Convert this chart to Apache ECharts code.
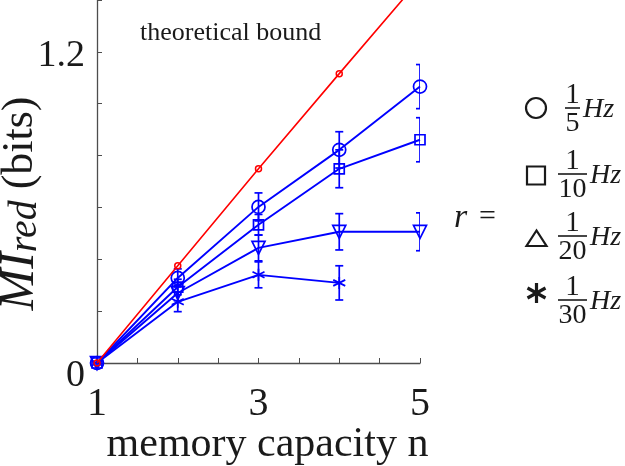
<!DOCTYPE html>
<html>
<head>
<meta charset="utf-8">
<script src="https://cdn.jsdelivr.net/npm/echarts@6/dist/echarts.min.js"></script>
<style>
  html, body { margin: 0; padding: 0; background: #fff; }
  #chart { width: 625px; height: 466px; }
</style>
</head>
<body>
<div id="chart"></div>
<script>
// memory capacity n
const capacity = [1, 2, 3, 4, 5]

// theoretical bound (red)
const bound = [0, 0.375, 0.749, 1.116, 1.48]

// MI_red for each rate r, with error half-widths
const r5 = [0, 0.328, 0.602, 0.822, 1.066]
const r5Err = [0, 0.035, 0.054, 0.07, 0.085]
const r10 = [0, 0.293, 0.533, 0.749, 0.861]
const r10Err = [0, 0.03, 0.04, 0.073, 0.085]
const r20 = [0, 0.27, 0.444, 0.506, 0.506]
const r20Err = [0, 0.03, 0.05, 0.07, 0.073]
const r30 = [0, 0.236, 0.34, 0.309, null]
const r30Err = [0, 0.038, 0.05, 0.066, null]

const BLUE = '#0000ff'
const INK = '#1a1a1a'
const SERIF = '"Liberation Serif", "DejaVu Serif", serif'
const STAR = 'path://M0,-10L0,10M-8.66,-5L8.66,5M-8.66,5L8.66,-5'

const chart = echarts.init(document.getElementById('chart'))

// pairs [x, y]
const pts = vals => capacity.map((x, i) => [x, vals[i]]).filter(p => p[1] != null)

// error bar series (custom, with caps)
const errSeries = (vals, errs) => ({
  type: 'custom',
  silent: true,
  clip: true,
  z: 3,
  data: capacity.map((x, i) => [x, vals[i], errs[i]]).filter(p => p[1] != null && p[2] > 0),
  renderItem: (params, api) => {
    const x = api.value(0), y = api.value(1), e = api.value(2)
    const top = api.coord([x, y + e])
    const bot = api.coord([x, y - e])
    const cap = 4
    const st = { stroke: BLUE, lineWidth: 1.7 }
    return {
      type: 'group',
      children: [
        { type: 'line', shape: { x1: top[0], y1: top[1], x2: bot[0], y2: bot[1] }, style: st },
        { type: 'line', shape: { x1: top[0] - cap, y1: top[1], x2: top[0] + cap, y2: top[1] }, style: st },
        { type: 'line', shape: { x1: bot[0] - cap, y1: bot[1], x2: bot[0] + cap, y2: bot[1] }, style: st }
      ]
    }
  }
})

const blueLine = (name, vals, symbol, size, rotate) => ({
  name: name,
  type: 'line',
  data: pts(vals),
  symbol: symbol,
  symbolSize: size,
  symbolRotate: rotate || 0,
  showAllSymbol: true,
  clip: false,
  z: 4,
  lineStyle: { color: BLUE, width: 1.9 },
  itemStyle: { color: 'rgba(0,0,0,0)', borderColor: BLUE, borderWidth: 1.7 }
})

// legend on the right, drawn as graphic text/shapes
const txt = (x, y, s, font, align) => ({
  type: 'text', x: x, y: y,
  style: { text: s, font: font, fill: INK, textAlign: align || 'left', textVerticalAlign: 'middle' }
})
const ln = (x1, y1, x2, y2, w) => ({
  type: 'line', shape: { x1: x1, y1: y1, x2: x2, y2: y2 }, style: { stroke: INK, lineWidth: w }
})

const fracRow = (y, den, sym) => {
  const x0 = den.length > 1 ? 558 : 565
  const barW = den.length > 1 ? 29 : 15
  return [].concat(sym, [
    txt(x0 + barW / 2, y - 13, '1', '29px ' + SERIF, 'center'),
    ln(x0, y, x0 + barW, y, 1.6),
    txt(x0 + barW / 2, y + 16, den, '28px ' + SERIF, 'center'),
    txt(x0 + barW + 3, y + 2, 'Hz', 'italic 28px ' + SERIF)
  ])
}

const legendGraphics = [].concat(
  [txt(454, 218, 'r', 'italic 34px ' + SERIF), txt(479, 217, '=', '30px ' + SERIF)],
  fracRow(108, '5', [{ type: 'circle', shape: { cx: 536, cy: 108, r: 10 }, style: { fill: 'none', stroke: INK, lineWidth: 2.2 } }]),
  fracRow(174, '10', [{ type: 'rect', shape: { x: 527, y: 166.5, width: 18, height: 18 }, style: { fill: 'none', stroke: INK, lineWidth: 2.2 } }]),
  fracRow(236, '20', [{ type: 'polygon', shape: { points: [[536.5, 230.5], [526.5, 246], [546.5, 246]] }, style: { fill: 'none', stroke: INK, lineWidth: 2.2 } }]),
  fracRow(300, '30', [
    ln(536.5, 283, 536.5, 303, 3.2),
    ln(527.5, 288, 545.5, 298, 3.2),
    ln(527.5, 298, 545.5, 288, 3.2)
  ])
)

const option = {
  backgroundColor: '#fff',
  animation: false,
  grid: { left: 97, right: 205, top: 0, bottom: 103, containLabel: false, outerBoundsMode: 'none' },
  xAxis: {
    type: 'value',
    min: 1,
    max: 5,
    interval: 0.5,
    name: 'memory capacity n',
    nameLocation: 'middle',
    nameGap: 61,
    nameMoveOverlap: false,
    nameTextStyle: { fontFamily: SERIF, fontSize: 42, color: INK, padding: [0, 0, 0, 18] },
    axisLine: { lineStyle: { color: '#4d4d4d', width: 1.3 } },
    axisTick: { inside: true, length: 5, lineStyle: { color: '#4d4d4d' } },
    axisLabel: {
      fontFamily: SERIF, fontSize: 40, color: INK, margin: 21,
      formatter: v => (v === 1 || v === 3 || v === 5) ? String(v) : ''
    },
    splitLine: { show: false }
  },
  yAxis: {
    type: 'value',
    min: 0,
    max: 1.4,
    interval: 0.2,
    name: '{mi|MI}{sub|red}{n| (bits)}',
    nameLocation: 'middle',
    nameGap: 52,
    nameMoveOverlap: false,
    nameTextStyle: {
      padding: [0, 44, 0, 0],
      rich: {
        mi: { fontFamily: SERIF, fontSize: 50, fontStyle: 'italic', color: INK },
        sub: { fontFamily: SERIF, fontSize: 40, fontStyle: 'italic', color: INK, padding: [10, 0, 0, 0] },
        n: { fontFamily: SERIF, fontSize: 44, color: INK }
      }
    },
    axisLine: { show: true, lineStyle: { color: '#4d4d4d', width: 1.3 } },
    axisTick: { show: true, inside: true, length: 5, lineStyle: { color: '#4d4d4d' } },
    axisLabel: {
      fontFamily: SERIF, fontSize: 38, color: INK, margin: 12,
      formatter: v => v === 0 ? '{z|0}' : (Math.abs(v - 1.2) < 1e-6 ? '{o|1.2}' : ''),
      rich: {
        z: { fontFamily: SERIF, fontSize: 38, color: INK, padding: [26, 0, 0, 0] },
        o: { fontFamily: SERIF, fontSize: 38, color: INK, padding: [8, 0, 0, 0] }
      }
    },
    splitLine: { show: false }
  },
  graphic: [txt(140, 33, 'theoretical bound', '26px ' + SERIF)].concat(legendGraphics),
  series: [
    {
      name: 'bound',
      type: 'line',
      data: pts(bound),
      symbol: 'circle',
      symbolSize: 6,
      showAllSymbol: true,
      clip: true,
      z: 5,
      lineStyle: { color: '#ff0000', width: 1.6 },
      itemStyle: { color: 'rgba(0,0,0,0)', borderColor: '#ff0000', borderWidth: 1.5 }
    },
    blueLine('1/5 Hz', r5, 'circle', 13),
    blueLine('1/10 Hz', r10, 'rect', 10),
    blueLine('1/20 Hz', r20, 'triangle', 13, 180),
    blueLine('1/30 Hz', r30, STAR, 12),
    errSeries(r5, r5Err),
    errSeries(r10, r10Err),
    errSeries(r20, r20Err),
    errSeries(r30, r30Err)
  ]
}

chart.setOption(option)
window.addEventListener('resize', () => chart.resize())
</script>
</body>
</html>
